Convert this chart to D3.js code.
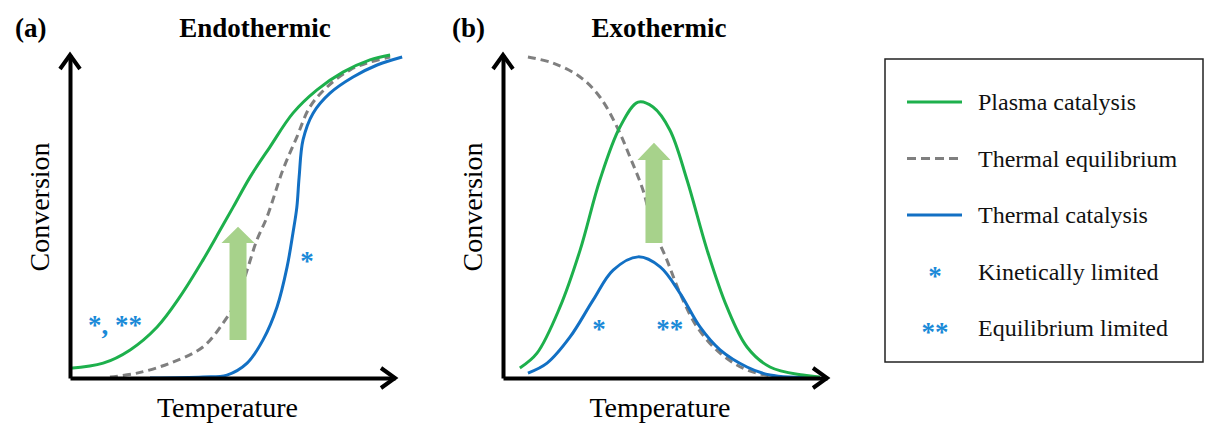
<!DOCTYPE html>
<html>
<head>
<meta charset="utf-8">
<script src="https://cdn.jsdelivr.net/npm/d3@7"></script>
<style>
  body { margin: 0; background: #fff; }
  svg { display: block; }
  text { font-family: "Liberation Serif", "Times New Roman", serif; }
</style>
</head>
<body>
<svg id="chart"></svg>
<script>
// valores (unidades relativas 0-100)
var endoPlasmaX = [0, 10.2, 18.5, 26.8, 33.8, 40.9, 46.2, 50.2, 55.4, 61.5, 68.6, 76, 84, 92.3, 98.5];
var endoPlasmaY = [3, 4.6, 8.7, 15.8, 25.1, 36.5, 45.8, 52.9, 62.2, 71.5, 82, 89.2, 94.7, 98.5, 100];
var endoEquilX = [12.3, 20.6, 30.8, 40.9, 47.1, 51.4, 54.5, 57.5, 60.6, 65.5, 69.8, 73.8, 79.1, 86.2, 92.3, 98.5];
var endoEquilY = [0.3, 1.5, 4.6, 9.6, 17, 24.1, 33.4, 42.7, 49.8, 64.4, 74.6, 83.9, 90.1, 95.4, 97.8, 99.4];
var endoThermX = [24.6, 40.9, 48.3, 54.5, 59.4, 63.7, 66.8, 68.6, 69.8, 70.5, 71.7, 74.8, 80, 87.1, 94.5, 102.2];
var endoThermY = [0, 0.3, 0.9, 4.6, 11.8, 22, 34.4, 44.9, 52.9, 62.2, 73.7, 82, 88.2, 93.2, 96.9, 99.4];

var exoPlasmaX = [5.2, 10.5, 17.6, 23.8, 29.9, 36.1, 41.7, 46.3, 51.5, 56.8, 63, 69.1, 75.3, 82.4, 92.6, 97.8];
var exoPlasmaY = [3.1, 7.7, 22, 39.6, 61.3, 77.7, 85.4, 83.9, 76.8, 61.3, 39.6, 22, 9.6, 3.4, 0.9, 0.3];
var exoEquilX = [7.7, 15.4, 23.8, 29.9, 35.2, 39.2, 43.2, 46.3, 50.6, 54.6, 59.9, 67, 75.3, 85.5, 95.7];
var exoEquilY = [99.4, 97.5, 93.2, 87, 77.7, 68.4, 58.2, 46.7, 36.5, 26.3, 15.8, 7.7, 2.5, 0.3, 0];
var exoThermX = [7.7, 13.6, 20.7, 27.8, 34, 41.7, 48.5, 54.6, 60.8, 67, 75.3, 82.4, 97.8];
var exoThermY = [1.5, 4.6, 12.7, 24.1, 33.4, 37.5, 34.4, 26.3, 15.8, 8.7, 3.4, 0.9, 0];

// flechas verdes: x, y inicio, y base de la punta, y punta
var endoArrow = [51.7, 11.8, 41.8, 46.8];
var exoArrow = [46.6, 41.8, 67.5, 72.8];

// asteriscos: texto, x, y, ancla
var endoMarks = [["*, **", 5.5, 13.6, "start"], ["*", 72.9, 33.5, "middle"]];
var exoMarks = [["*", 29.6, 12.4, "middle"], ["**", 51.5, 12.4, "middle"]];

var legendLabels = ["Plasma catalysis", "Thermal equilibrium", "Thermal catalysis", "Kinetically limited", "Equilibrium limited"];

var verde = "#1db04c", azul = "#1270c4", gris = "#7f7f7f", flecha = "#a7d28b", estrella = "#1a8ad8";

var w = 1217, h = 433;
var svg = d3.select("#chart").attr("width", w).attr("height", h);

function juntar(xs, ys) {
  return xs.map(function(d, i) { return [d, ys[i]]; });
}

function panel(opts) {
  var x = d3.scaleLinear().domain([0, 100]).range([opts.x0, opts.x1]);
  var y = d3.scaleLinear().domain([0, 100]).range([378, 55]);
  var g = svg.append("g");

  var linea = d3.line()
    .x(function(d) { return x(d[0]); })
    .y(function(d) { return y(d[1]); })
    .curve(d3.curveCatmullRom.alpha(0.5));

  // curvas
  g.append("path").attr("d", linea(opts.equil))
    .attr("fill", "none").attr("stroke", gris).attr("stroke-width", 3)
    .attr("stroke-dasharray", "8,5");
  g.append("path").attr("d", linea(opts.therm))
    .attr("fill", "none").attr("stroke", azul).attr("stroke-width", 3);
  g.append("path").attr("d", linea(opts.plasma))
    .attr("fill", "none").attr("stroke", verde).attr("stroke-width", 3);

  // flecha verde
  var a = opts.arrow, cx = x(a[0]), sw = 8.5, hw = 16.5;
  var pts = [[cx - sw, y(a[1])], [cx - sw, y(a[2])], [cx - hw, y(a[2])], [cx, y(a[3])],
             [cx + hw, y(a[2])], [cx + sw, y(a[2])], [cx + sw, y(a[1])]];
  g.append("path").attr("d", "M" + pts.join("L") + "Z").attr("fill", flecha);

  // ejes
  g.append("g").attr("transform", "translate(0,378)")
    .call(d3.axisBottom(x).tickValues([]).tickSizeOuter(0));
  g.append("g").attr("transform", "translate(" + opts.x0 + ",0)")
    .call(d3.axisLeft(y).tickValues([]).tickSizeOuter(0));
  g.selectAll(".domain").attr("stroke", "#000").attr("stroke-width", 4);

  // puntas de los ejes
  var tx = x(100), ty = y(100);
  g.append("path").attr("d", "M" + (tx - 14) + "," + (378 - 10) + "L" + tx + ",378L" + (tx - 14) + "," + (378 + 10))
    .attr("fill", "none").attr("stroke", "#000").attr("stroke-width", 4).attr("stroke-linejoin", "miter");
  g.append("path").attr("d", "M" + (opts.x0 - 10) + "," + (ty + 14) + "L" + opts.x0 + "," + ty + "L" + (opts.x0 + 10) + "," + (ty + 14))
    .attr("fill", "none").attr("stroke", "#000").attr("stroke-width", 4).attr("stroke-linejoin", "miter");

  // asteriscos
  g.selectAll(".marca").data(opts.marks).enter().append("text")
    .attr("x", function(d) { return x(d[1]); })
    .attr("y", function(d) { return y(d[2]); })
    .attr("text-anchor", function(d) { return d[3]; })
    .attr("fill", estrella).attr("font-size", 27).attr("font-weight", "bold")
    .text(function(d) { return d[0]; });

  // titulos
  g.append("text").attr("x", opts.letraX).attr("y", 37).attr("font-size", 27)
    .attr("font-weight", "bold").text(opts.letra);
  g.append("text").attr("x", opts.tituloX).attr("y", 37).attr("font-size", 27)
    .attr("font-weight", "bold").attr("text-anchor", "middle").text(opts.titulo);
  g.append("text").attr("x", (opts.x0 + opts.x1) / 2 - 5).attr("y", 417).attr("font-size", 28)
    .attr("text-anchor", "middle").text("Temperature");
  g.append("text").attr("transform", "translate(" + (opts.x0 - 21) + ",207) rotate(-90)")
    .attr("font-size", 28).attr("text-anchor", "middle").text("Conversion");
}

panel({ x0: 70, x1: 395, letra: "(a)", letraX: 15, titulo: "Endothermic", tituloX: 255,
        plasma: juntar(endoPlasmaX, endoPlasmaY), equil: juntar(endoEquilX, endoEquilY),
        therm: juntar(endoThermX, endoThermY), arrow: endoArrow, marks: endoMarks });
panel({ x0: 503, x1: 827, letra: "(b)", letraX: 452, titulo: "Exothermic", tituloX: 659,
        plasma: juntar(exoPlasmaX, exoPlasmaY), equil: juntar(exoEquilX, exoEquilY),
        therm: juntar(exoThermX, exoThermY), arrow: exoArrow, marks: exoMarks });

// leyenda
var leyenda = svg.append("g");
leyenda.append("rect").attr("x", 885).attr("y", 59).attr("width", 318).attr("height", 303)
  .attr("fill", "none").attr("stroke", "#222").attr("stroke-width", 1.5);
var filaY = d3.scalePoint().domain(legendLabels).range([102, 328]);
var estilos = [
  { tipo: "linea", color: verde, dash: null },
  { tipo: "linea", color: gris, dash: "9,5" },
  { tipo: "linea", color: azul, dash: null },
  { tipo: "texto", t: "*" },
  { tipo: "texto", t: "**" }
];
legendLabels.forEach(function(lab, i) {
  var yy = filaY(lab), e = estilos[i];
  if (e.tipo === "linea") {
    leyenda.append("line").attr("x1", 907).attr("x2", 962).attr("y1", yy).attr("y2", yy)
      .attr("stroke", e.color).attr("stroke-width", 3).attr("stroke-dasharray", e.dash);
  } else {
    leyenda.append("text").attr("x", 935).attr("y", yy + 13).attr("text-anchor", "middle")
      .attr("fill", estrella).attr("font-size", 27).attr("font-weight", "bold")
      .text(e.t);
  }
  leyenda.append("text").attr("x", 978).attr("y", yy + 8).attr("font-size", 24)
    .attr("fill", "#111").text(lab);
});
</script>
</body>
</html>
